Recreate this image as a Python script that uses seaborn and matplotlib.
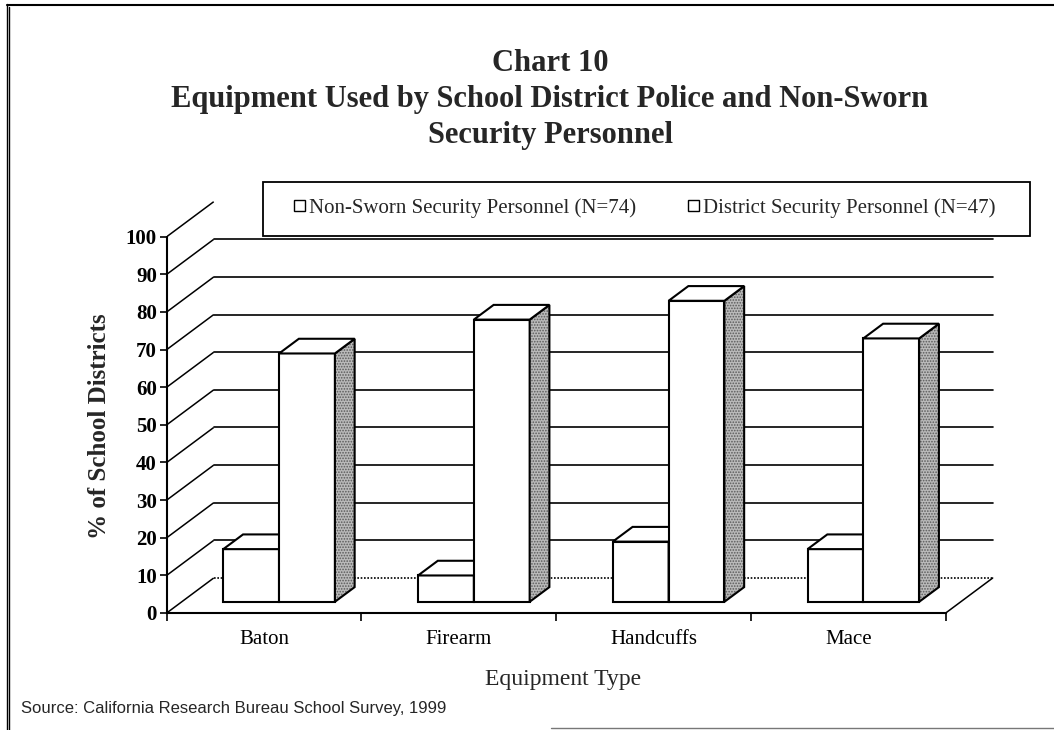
import numpy as np
import pandas as pd
import matplotlib
matplotlib.use("Agg")
import matplotlib.pyplot as plt
from matplotlib.patches import Polygon, Rectangle
from matplotlib.lines import Line2D
import seaborn as sns

# Values (% of school districts)
equipment = ["Baton", "Firearm", "Handcuffs", "Mace"]
non_sworn_pct = [14, 7, 16, 14]
district_pct = [66, 75, 80, 70]
series_names = ["Non-Sworn Security Personnel (N=74)",
                "District Security Personnel (N=47)"]
y_ticks = list(range(0, 101, 10))

title_lines = ["Chart 10",
               "Equipment Used by School District Police and Non-Sworn",
               "Security Personnel"]
source_note = "Source: California Research Bureau School Survey, 1999"

# Fake 3D look: depth of the floor and of the bars, in data units
DEPTH_X = 0.2413
DEPTH_Y = 9.30
BAR_FRONT = 0.32   # where the bar front sits inside the floor depth
BAR_DEPTH = 0.42   # how deep each bar is, as part of the floor depth

W, H = 1054, 730


def fx(px):
    """pixel x (from left) -> figure fraction"""
    return px / W


def fy(py):
    """pixel y (from top) -> figure fraction"""
    return 1 - py / H


def draw_walls(ax):
    """
    Back wall gridlines, left wall diagonals and the floor outline
    """
    x_left, x_right = -0.5, 3.5
    for v in y_ticks:
        # diagonal on the left wall
        ax.plot([x_left, x_left + DEPTH_X], [v, v + DEPTH_Y],
                color="black", lw=1.1, zorder=1, solid_capstyle="butt")
        if v == 100:
            continue
        # horizontal line on the back wall (the floor edge is dotted)
        ls = (0, (1, 1)) if v == 0 else "-"
        ax.plot([x_left + DEPTH_X, x_right + DEPTH_X], [v + DEPTH_Y, v + DEPTH_Y],
                color="black", lw=1.2, ls=ls, zorder=1)
    # right edge of the floor
    ax.plot([x_right, x_right + DEPTH_X], [0, DEPTH_Y],
            color="black", lw=1.1, zorder=1)


def extrude_bars(ax, bars, zorder):
    """
    Push the flat seaborn bars back into the floor and add top / side faces
    """
    ox, oy = BAR_FRONT * DEPTH_X, BAR_FRONT * DEPTH_Y
    bx, by = BAR_DEPTH * DEPTH_X, BAR_DEPTH * DEPTH_Y
    for bar in bars:
        bar.set_x(bar.get_x() + ox)
        bar.set_y(oy)
        bar.set_zorder(zorder)
        x0, w, h = bar.get_x(), bar.get_width(), bar.get_height()
        x1, top = x0 + w, oy + h
        side = [(x1, oy), (x1, top), (x1 + bx, top + by), (x1 + bx, oy + by)]
        roof = [(x0, top), (x1, top), (x1 + bx, top + by), (x0 + bx, top + by)]
        # stippled grey side face
        ax.add_patch(Polygon(side, closed=True, facecolor="#bababa",
                             edgecolor="#5a5a5a", hatch="......", lw=0,
                             zorder=zorder))
        ax.add_patch(Polygon(side, closed=True, fill=False,
                             edgecolor="black", lw=1.5, zorder=zorder))
        ax.add_patch(Polygon(roof, closed=True, facecolor="white",
                             edgecolor="black", lw=1.5, zorder=zorder))


def main():
    sns.set_style("white")
    plt.rcParams["font.family"] = ["Liberation Serif", "DejaVu Serif"]
    plt.rcParams["hatch.linewidth"] = 0.8

    df = pd.DataFrame({
        "Equipment": equipment * 2,
        "Percent": non_sworn_pct + district_pct,
        "Group": [series_names[0]] * len(equipment) + [series_names[1]] * len(equipment),
    })

    fig = plt.figure(figsize=(W / 100, H / 100), dpi=100)
    ax = fig.add_axes([fx(166.7), fy(613), fx(827.7), 413.9 / H])

    sns.barplot(data=df, x="Equipment", y="Percent", hue="Group",
                hue_order=series_names, order=equipment,
                palette=["white", "white"], saturation=1,
                edgecolor="black", linewidth=1.5, width=0.573,
                errorbar=None, legend=False, ax=ax)

    draw_walls(ax)
    extrude_bars(ax, ax.containers[0], 3)
    extrude_bars(ax, ax.containers[1], 4)

    ax.set_xlim(-0.5, 3.75)
    ax.set_ylim(0, 110)

    # axes: only the front left and front bottom edges
    for s in ["top", "right"]:
        ax.spines[s].set_visible(False)
    ax.spines["left"].set_bounds(0, 100)
    ax.spines["bottom"].set_bounds(-0.5, 3.5)
    for s in ["left", "bottom"]:
        ax.spines[s].set_linewidth(1.5)
        ax.spines[s].set_color("black")

    ax.set_yticks(y_ticks, labels=[str(t) for t in y_ticks],
                  fontsize=15, fontweight="bold")
    ax.tick_params(axis="y", direction="out", length=5, width=1.2, pad=2,
                   left=True, colors="black")
    ax.set_xticks(range(len(equipment)), labels=equipment, fontsize=15)
    ax.set_xticks(np.arange(-0.5, len(equipment)), minor=True)
    ax.tick_params(axis="x", which="major", length=0, pad=12, colors="black")
    ax.tick_params(axis="x", which="minor", direction="out", length=6,
                   width=1.2, bottom=True, color="black")

    ax.set_ylabel("% of School Districts", fontsize=18, fontweight="bold")
    ax.yaxis.set_label_coords(-0.0806, 0.452)
    ax.yaxis.label.set_verticalalignment("center")
    ax.set_xlabel("Equipment Type", fontsize=17)
    ax.xaxis.set_label_coords(0.479, -0.160)
    ax.xaxis.label.set_verticalalignment("center")

    # title, one line at a time
    for txt, base in zip(title_lines, [71, 107, 143]):
        fig.text(fx(550), fy(base), txt, ha="center", va="baseline",
                 fontsize=22, fontweight="bold")

    # legend box
    fig.add_artist(Rectangle((fx(263), fy(236)), fx(1030 - 263), (236 - 182) / H,
                             transform=fig.transFigure, facecolor="white",
                             edgecolor="black", lw=1.3, zorder=4))
    handles = [Rectangle((0, 0), 1, 1, facecolor="white", edgecolor="black", lw=1)
               for _ in series_names]
    fig.legend(handles, series_names, loc="center",
               bbox_to_anchor=(fx(645), fy(208)), ncol=2, frameon=False,
               fontsize=15, handlelength=0.5, handleheight=0.5,
               handletextpad=0.22, columnspacing=2.5)

    fig.text(fx(21), fy(713), source_note, ha="left", va="baseline",
             fontsize=12, family=["Liberation Sans", "DejaVu Sans"])

    # page frame
    fig.add_artist(Line2D([fx(6.7), fx(6.7)], [0, fy(4)], transform=fig.transFigure,
                          color="black", lw=1))
    fig.add_artist(Line2D([fx(9.3), fx(9.3)], [0, fy(7)], transform=fig.transFigure,
                          color="black", lw=1))
    fig.add_artist(Line2D([fx(6.7), 1], [fy(5), fy(5)], transform=fig.transFigure,
                          color="black", lw=1.5))
    fig.add_artist(Line2D([fx(551), 1], [fy(728), fy(728)], transform=fig.transFigure,
                          color="#777777", lw=1))

    fig.savefig("out.png", dpi=100)


if __name__ == "__main__":
    main()
